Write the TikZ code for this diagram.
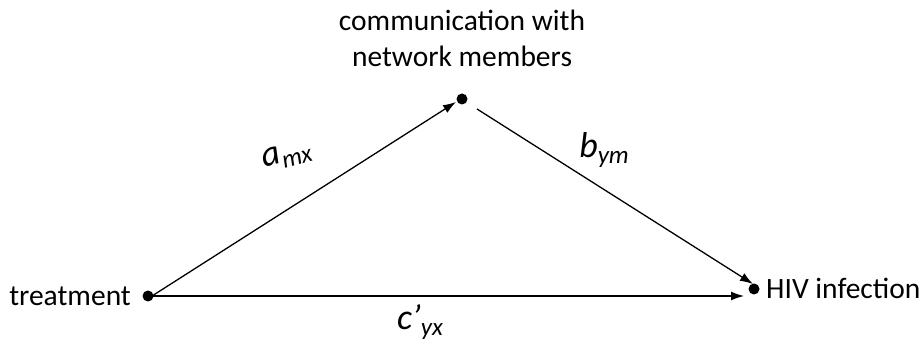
\documentclass[tikz,border=0pt]{standalone}
\usepackage{fontspec}
\setmainfont{Carlito}
\usetikzlibrary{arrows.meta}
\begin{document}
\begin{tikzpicture}[x=1pt,y=-1pt,
  dotnode/.style={circle,fill=black,inner sep=0pt,minimum size=11pt},
  lbl/.style={font=\fontsize{29.5}{34}\selectfont,inner sep=0pt},
  mlbl/.style={font=\fontsize{36}{40}\selectfont\itshape,inner sep=0pt},
  conn/.style={line width=1.3pt,-{Latex[length=13pt,width=9pt]}}]
\useasboundingbox (0,0) rectangle (920,344);
\newcommand{\mysub}[1]{\raisebox{-6pt}{\fontsize{25}{28}\selectfont\itshape #1}}
\node[dotnode] (m) at (462,99) {};
\node[dotnode] (x) at (148,296) {};
\node[dotnode] (y) at (754,289) {};
\node[lbl,align=center] (mt) at (462,38) {communication with\\[2pt]network members};
\node[lbl,anchor=east] (xt) at (131,296) {treatment};
\node[lbl,anchor=west] (yt) at (766,288) {HIV infection};
\coordinate (xa) at (152,296);
\coordinate (ma) at (456,102);
\coordinate (mb) at (477,109);
\coordinate (yb) at (753,284);
\coordinate (yc) at (744,296);
\draw[conn] (xa) -- (ma);
\draw[conn] (mb) -- (yb);
\draw[conn] (xa) -- (yc);
\node[mlbl] (a) at (287,156) {\rotatebox{15}{\itshape a\mysub{mx}}};
\node[mlbl] (b) at (604,150) {b\mysub{ym}};
\node[mlbl] (c) at (420,322) {c’\mysub{yx}};
\end{tikzpicture}
\end{document}
